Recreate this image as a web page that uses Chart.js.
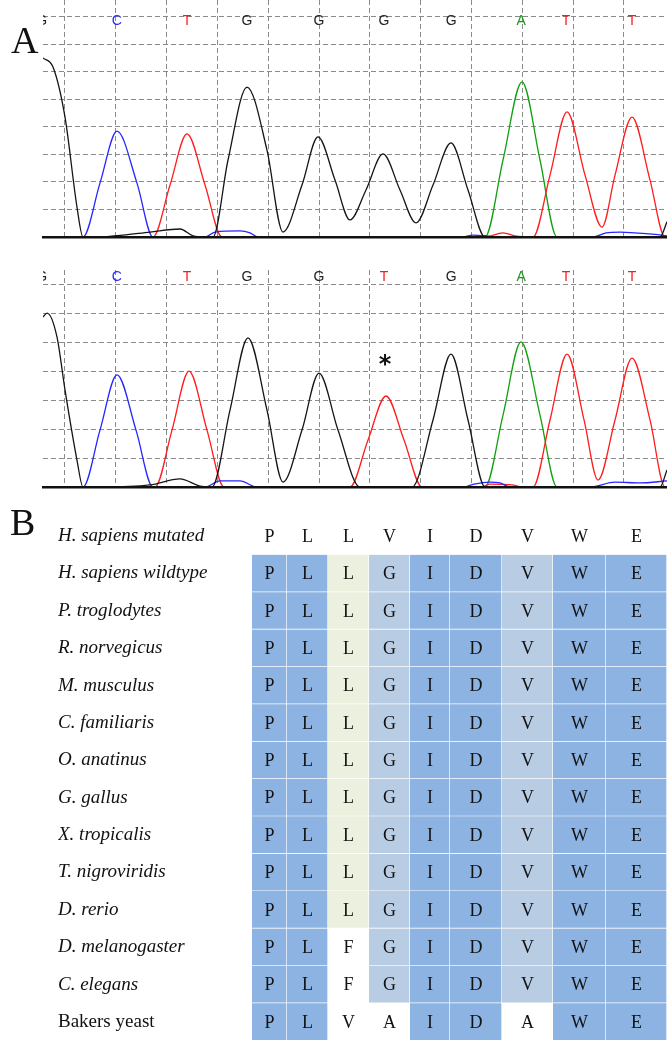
<!DOCTYPE html>
<html>
<head>
<meta charset="utf-8">
<title>Sequence trace and alignment</title>
<script src="https://cdn.jsdelivr.net/npm/chart.js@4.4.1/dist/chart.umd.min.js"></script>
<style>
  html, body { margin: 0; padding: 0; background: #fff; overflow: hidden; }
  #fig { position: relative; width: 667px; height: 1052px; }
  canvas { position: absolute; left: 0; }
  .panel-letter {
    position: absolute;
    font-family: "Liberation Serif", "Times New Roman", serif;
    font-size: 38px;
    line-height: 1;
    color: #111;
  }
</style>
</head>
<body>
<div id="fig">
  <canvas id="traceTop" width="667" height="245" style="top:0"></canvas>
  <canvas id="traceBottom" width="667" height="245" style="top:250px"></canvas>
  <canvas id="alignment" width="667" height="552" style="top:503px"></canvas>
  <div class="panel-letter" style="left:11px; top:21px;">A</div>
  <div class="panel-letter" style="left:10px; top:503px;">B</div>
</div>

<script>
// ---- panel A: base calls (scan positions shared by both traces)
const topCalls = ['G', 'C', 'T', 'G', 'G', 'G', 'G', 'A', 'T', 'T'];
const bottomCalls = ['G', 'C', 'T', 'G', 'G', 'T', 'G', 'A', 'T', 'T'];
const callScans = [-4.6, 10.2, 24.0, 35.8, 50.0, 62.8, 76.0, 89.8, 98.6, 111.6];

// wildtype trace, [scan, signal]
const topG = [[-4.33, 6.51], [-2.36, 6.18], [0, 4.36], [2.36, 1.09], [3.54, 0], [6.89, 0], [11.42, 0.07],
  [16.73, 0.18], [22.64, 0.29], [25.2, 0.04], [27.56, 0], [29.13, 0], [32.09, 2.8], [35.83, 5.45],
  [39.76, 3.16], [42.91, 0.18], [46.65, 1.89], [49.8, 3.64], [53.15, 2.07], [56.1, 0.62], [59.25, 1.71],
  [62.6, 3.02], [65.94, 1.71], [69.09, 0.51], [72.44, 1.89], [75.98, 3.42], [79.33, 1.71], [82.68, 0],
  [117.13, 0], [118.5, 0.55]];
const topC = [[-4.33, 0], [3.54, 0], [6.89, 1.96], [10.24, 3.85], [14.17, 1.96], [17.32, 0], [27.56, 0],
  [29.53, 0.18], [34.45, 0.22], [36.42, 0.15], [37.99, 0], [78.0, 0], [80.3, 0.07], [83.0, 0.04], [85.0, 0],
  [103.9, 0], [106.5, 0.15], [109.25, 0.18], [115.16, 0.11], [118.5, 0.04]];
const topT = [[-4.33, 0], [17.32, 0], [20.67, 1.89], [24.02, 3.75], [27.56, 1.89], [30.91, 0], [82.68, 0],
  [86.22, 0.15], [88.58, 0.04], [92.13, 0], [95.47, 2.25], [98.82, 4.55], [102.36, 2.25], [105.71, 0.36],
  [108.27, 2.25], [111.61, 4.36], [115.16, 2.07], [118.11, 0], [118.5, 0]];
const topA = [[-4.33, 0], [82.68, 0], [86.22, 2.8], [89.96, 5.64], [93.5, 2.8], [96.85, 0], [118.5, 0]];

// mutated trace
const bottomG = [[-4.33, 5.88], [-3.54, 6.02], [-1.57, 5.19], [0, 3.36], [2.36, 0.93], [3.54, 0], [6.89, 0],
  [16.73, 0.07], [22.64, 0.28], [26.57, 0.03], [28.94, 0], [32.48, 2.66], [36.02, 5.16], [39.76, 2.66],
  [42.91, 0.17], [46.65, 1.97], [50.0, 3.94], [53.74, 1.97], [58.07, 0], [68.31, 0], [72.44, 2.32],
  [75.98, 4.6], [79.33, 2.32], [82.68, 0], [117.13, 0], [118.5, 0.59]];
const bottomC = [[-4.33, 0], [3.54, 0], [6.89, 1.97], [10.24, 3.88], [13.98, 1.97], [17.32, 0], [27.56, 0],
  [30.51, 0.21], [34.45, 0.21], [37.8, 0], [78.5, 0], [80.5, 0.1], [83.66, 0.17], [85.63, 0.14], [87.6, 0],
  [103.35, 0], [108.27, 0.17], [113.19, 0.14], [118.5, 0.21]];
const bottomT = [[-4.33, 0], [17.72, 0], [21.06, 1.97], [24.41, 4.01], [27.95, 1.97], [31.3, 0], [56.1, 0],
  [59.65, 1.63], [63.19, 3.15], [66.73, 1.63], [70.28, 0], [82.0, 0], [83.66, 0.1], [88.0, 0.07], [90.0, 0],
  [92.13, 0], [95.47, 2.32], [98.82, 4.6], [102.17, 2.32], [104.92, 0.24], [108.27, 2.32], [111.61, 4.46],
  [115.16, 2.32], [118.11, 0], [118.5, 0]];
const bottomA = [[-4.33, 0], [82.68, 0], [86.22, 2.49], [89.76, 5.02], [93.5, 2.49], [96.85, 0], [118.5, 0]];

// the mutated call gets a star
const starScan = 63.0;
const starSignal = 4.46;

// ---- panel B: alignment
const species = ['H. sapiens mutated', 'H. sapiens wildtype', 'P. troglodytes', 'R. norvegicus',
  'M. musculus', 'C. familiaris', 'O. anatinus', 'G. gallus', 'X. tropicalis', 'T. nigroviridis',
  'D. rerio', 'D. melanogaster', 'C. elegans', 'Bakers yeast'];
const residues = ['PLLVIDVWE', 'PLLGIDVWE', 'PLLGIDVWE', 'PLLGIDVWE', 'PLLGIDVWE', 'PLLGIDVWE',
  'PLLGIDVWE', 'PLLGIDVWE', 'PLLGIDVWE', 'PLLGIDVWE', 'PLLGIDVWE', 'PLFGIDVWE', 'PLFGIDVWE', 'PLVAIDAWE'];
// B = conserved, L = similar, G = partly conserved, . = none
const shading = ['.........', 'BBGLBBLBB', 'BBGLBBLBB', 'BBGLBBLBB', 'BBGLBBLBB', 'BBGLBBLBB',
  'BBGLBBLBB', 'BBGLBBLBB', 'BBGLBBLBB', 'BBGLBBLBB', 'BBGLBBLBB', 'BB.LBBLBB', 'BB.LBBLBB', 'BB..BB.BB'];

// layout / style
const COL_WIDTHS = [35, 41, 41, 41, 40, 52, 51, 53, 61];
const SHADE_COLORS = { B: '#8db3e2', L: '#b8cce4', G: '#ebf1de', '.': 'rgba(0,0,0,0)' };
const CALL_COLORS = { G: '#222', C: '#2b2bf0', T: '#f02020', A: '#1a9a1a' };
const TRACE_COLORS = { G: '#151515', C: '#2626ff', T: '#ff1c1c', A: '#10a010' };

const toPoints = arr => arr.map(p => ({ x: p[0], y: p[1] }));

const baseCalls = {
  id: 'baseCalls',
  afterDraw(chart, args, opts) {
    const { ctx, chartArea, scales: { x, y } } = chart;
    ctx.save();
    ctx.beginPath();
    ctx.rect(chartArea.left, 0, chartArea.right - chartArea.left, chart.height);
    ctx.clip();
    ctx.font = '14px "Liberation Sans", Arial, sans-serif';
    ctx.textAlign = 'center';
    ctx.textBaseline = 'middle';
    opts.calls.forEach((b, i) => {
      ctx.fillStyle = CALL_COLORS[b];
      ctx.fillText(b, x.getPixelForValue(callScans[i]), opts.labelY);
    });
    if (opts.star) {
      ctx.fillStyle = '#111';
      ctx.font = 'bold 24px "DejaVu Sans", sans-serif';
      ctx.textBaseline = 'alphabetic';
      ctx.fillText('*', x.getPixelForValue(starScan), y.getPixelForValue(starSignal) + 14);
    }
    ctx.restore();
  }
};

function traceChart(id, series, yMax, padTop, calls, labelY, star) {
  const datasets = ['G', 'C', 'T', 'A'].map(b => ({
    data: toPoints(series[b]),
    borderColor: TRACE_COLORS[b],
    borderWidth: 1.3,
    pointRadius: 0,
    fill: false,
    cubicInterpolationMode: 'monotone'
  }));
  const gridColor = '#8a8a8a';
  new Chart(document.getElementById(id), {
    type: 'line',
    data: { datasets },
    plugins: [baseCalls],
    options: {
      responsive: false,
      animation: false,
      events: [],
      layout: { padding: { left: 43, right: 0, top: padTop, bottom: 8 } },
      plugins: {
        legend: { display: false },
        tooltip: { enabled: false },
        baseCalls: { calls, labelY, star }
      },
      scales: {
        x: {
          type: 'linear', min: -4.33, max: 118.5,
          ticks: { display: false, stepSize: 10, includeBounds: false },
          grid: { color: gridColor, lineWidth: 1, drawTicks: false },
          border: { display: true, color: '#111', width: 2.5, dash: [5, 3], z: 1 }
        },
        y: {
          min: 0, max: yMax,
          ticks: { display: false, stepSize: 1, includeBounds: false },
          grid: { color: gridColor, lineWidth: 1, drawTicks: false },
          border: { display: false, dash: [5, 3] }
        }
      }
    }
  });
}

traceChart('traceTop', { G: topG, C: topC, T: topT, A: topA }, 8.618, 0, topCalls, 21, false);
traceChart('traceBottom', { G: bottomG, C: bottomC, T: bottomT, A: bottomA }, 7.51, 20, bottomCalls, 27, true);

// ---- alignment table
const residueLabels = {
  id: 'residueLabels',
  afterDatasetsDraw(chart) {
    const ctx = chart.ctx;
    ctx.save();
    ctx.font = '18px "Liberation Serif", "Times New Roman", serif';
    ctx.fillStyle = '#111';
    ctx.textAlign = 'center';
    ctx.textBaseline = 'middle';
    chart.data.datasets.forEach((ds, j) => {
      chart.getDatasetMeta(j).data.forEach((bar, i) => {
        ctx.fillText(residues[i][j], (bar.x + bar.base) / 2, bar.y + 1);
      });
    });
    ctx.restore();
  }
};

const columns = COL_WIDTHS.map((w, j) => ({
  data: species.map(() => w),
  backgroundColor: c => SHADE_COLORS[shading[c.dataIndex][j]],
  borderColor: c => shading[c.dataIndex][j] === '.' ? 'rgba(0,0,0,0)' : 'rgba(255,255,255,0.09)',
  borderWidth: { right: 1, bottom: 1 },
  barPercentage: 1,
  categoryPercentage: 1
}));

new Chart(document.getElementById('alignment'), {
  type: 'bar',
  data: { labels: species, datasets: columns },
  plugins: [residueLabels],
  options: {
    indexAxis: 'y',
    responsive: false,
    animation: false,
    events: [],
    layout: { padding: { left: 58, right: 0, top: 0, bottom: 0 } },
    plugins: { legend: { display: false }, tooltip: { enabled: false } },
    scales: {
      x: { type: 'linear', stacked: true, min: 0, max: 415, display: false },
      y: {
        stacked: true,
        grid: { display: false },
        border: { display: false },
        afterFit: scale => { scale.width = 194; },
        ticks: {
          crossAlign: 'far',
          color: '#111',
          font: c => ({
            family: '"Liberation Serif", "Times New Roman", serif',
            size: 19,
            style: c.index === species.length - 1 ? 'normal' : 'italic'
          })
        }
      }
    }
  }
});
</script>
</body>
</html>
